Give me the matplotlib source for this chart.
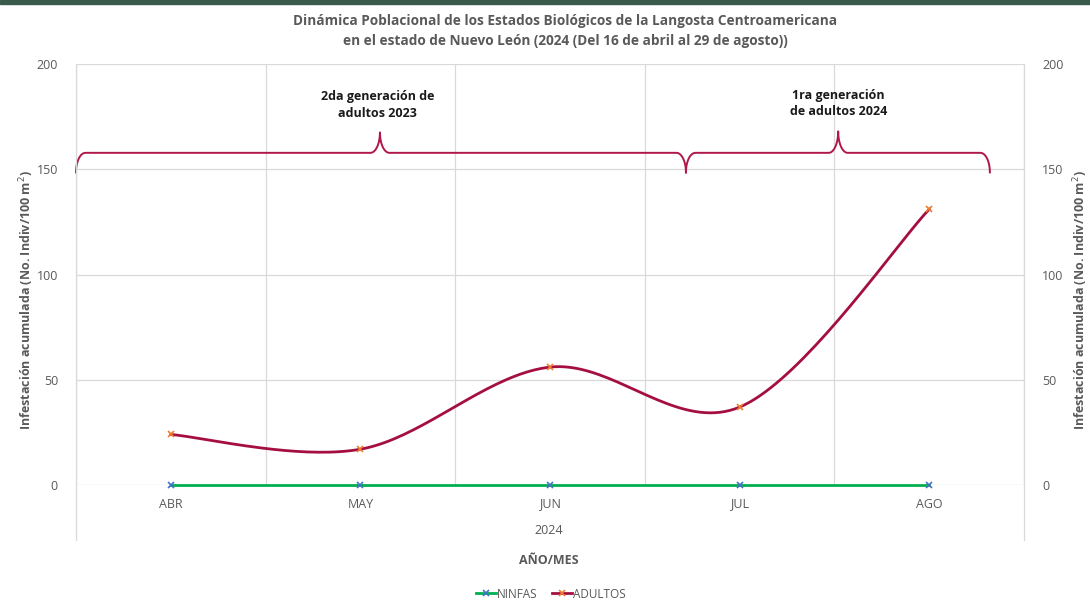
import numpy as np
import matplotlib
matplotlib.use("Agg")
import matplotlib.pyplot as plt
from matplotlib.lines import Line2D
from matplotlib.patches import Rectangle

categories = ["ABR", "MAY", "JUN", "JUL", "AGO"]
year_label = "2024"
ninfas = [0, 0, 0, 0, 0]
adultos = [24, 17, 56, 37, 131]
yticks = [0, 50, 100, 150, 200]

title = ("Dinámica Poblacional de los Estados Biológicos de la Langosta Centroamericana\n"
         "en el estado de Nuevo León (2024 (Del 16 de abril al 29 de agosto))")
ylabel = "Infestación acumulada (No. Indiv/100 m$^2$)"
xlabel = "AÑO/MES"
ann1 = "2da generación de\nadultos 2023"
ann2 = "1ra generación\nde adultos 2024"

plt.rcParams['font.family'] = ['Open Sans', 'DejaVu Sans']

GRID = "#d9d9d9"
TXT = "#595959"
GREEN = "#00b050"
BLUE = "#4472c4"
RED = "#a50f3f"
ORANGE = "#ed7d31"
BRACE = "#b0174a"


def smooth(xs, ys, n=40):
    pts = np.column_stack([xs, ys]).astype(float)
    out = []
    m = len(pts)
    for i in range(m - 1):
        p0 = pts[max(i - 1, 0)]
        p1 = pts[i]
        p2 = pts[i + 1]
        p3 = pts[min(i + 2, m - 1)]
        c1 = p1 + (p2 - p0) / 6.0
        c2 = p2 - (p3 - p1) / 6.0
        t = np.linspace(0, 1, n)[:, None]
        seg = ((1 - t) ** 3) * p1 + 3 * ((1 - t) ** 2) * t * c1 + 3 * (1 - t) * t ** 2 * c2 + t ** 3 * p2
        out.append(seg if i == 0 else seg[1:])
    s = np.vstack(out)
    return s[:, 0], s[:, 1]


W, H = 1090, 608
fig = plt.figure(figsize=(W / 100, H / 100), dpi=100)

# top band
fig.patches.append(Rectangle((0, 1 - 4 / H), 1, 4 / H, transform=fig.transFigure,
                             color="#3a5a4c", zorder=0))

left, right = 76 / W, 1024 / W
bottom, top = 1 - 485 / H, 1 - 64 / H
ax = fig.add_axes([left, bottom, right - left, top - bottom])
ax.set_xlim(-0.5, len(categories) - 0.5)
ax.set_ylim(0, 200)
for s in ax.spines.values():
    s.set_visible(False)
ax.set_yticks(yticks)
ax.tick_params(axis='y', length=0, labelsize=9, labelcolor=TXT, pad=13)
x = np.arange(len(categories))
ax.set_xticks(x)
ax.set_xticklabels(categories)
ax.tick_params(axis='x', length=0, labelsize=9, labelcolor=TXT, pad=9)

for v in yticks:
    ax.axhline(v, color=GRID, lw=0.9, zorder=0)
for k in range(len(categories) + 1):
    ax.axvline(k - 0.5, color=GRID, lw=0.9, zorder=0)

ax2 = ax.twinx()
ax2.set_ylim(0, 200)
ax2.set_yticks(yticks)
for s in ax2.spines.values():
    s.set_visible(False)
ax2.tick_params(axis='y', length=0, labelsize=9, labelcolor=TXT, pad=13)
ylab_y = (485 - 300) / 421
ax2.set_ylabel(ylabel, fontsize=9, fontweight='bold', color=TXT, rotation=90)
ax2.yaxis.set_label_coords((1071 - 76) / 948, ylab_y)
ax.set_ylabel(ylabel, fontsize=9, fontweight='bold', color=TXT)
ax.yaxis.set_label_coords((36 - 76) / 948, ylab_y)

# extended frame lines below the axis
for xf in (left, right):
    fig.add_artist(Line2D([xf, xf], [1 - 540 / H, top], transform=fig.transFigure,
                          color=GRID, lw=0.9))

# series
ax.plot(x, ninfas, color=GREEN, lw=2, zorder=3, clip_on=False)
ax.plot(x, ninfas, ls='none', marker='x', ms=4, mew=1.2, color=BLUE, zorder=4, clip_on=False)
sx, sy = smooth(x, adultos)
ax.plot(sx, sy, color=RED, lw=2, zorder=3, clip_on=False)
ax.plot(x, adultos, ls='none', marker='x', ms=4, mew=1.2, color=ORANGE, zorder=4, clip_on=False)


# braces
def brace(ax, x0, x1, xp, ylow, ymid, ypeak, color):
    r = 0.05
    t = np.linspace(0, np.pi / 2, 20)
    pts = []
    pts += [(x0 + r * (1 - np.cos(a)), ylow + (ymid - ylow) * np.sin(a)) for a in t]
    pts += [(xp - r, ymid)]
    pts += [(xp - r + r * np.sin(a), ymid + (ypeak - ymid) * (1 - np.cos(a))) for a in t]
    pts += [(xp + r - r * np.cos(a), ypeak - (ypeak - ymid) * np.sin(a)) for a in t]
    pts += [(x1 - r, ymid)]
    pts += [(x1 - r + r * np.sin(a), ymid - (ymid - ylow) * (1 - np.cos(a))) for a in t]
    pts = np.array(pts)
    ax.plot(pts[:, 0], pts[:, 1], color=color, lw=1.4, clip_on=False, zorder=5)


brace(ax, -0.5, 2.717, 1.103, 148.5, 157.8, 167.5, BRACE)
brace(ax, 2.717, 4.32, 3.52, 148.5, 157.8, 168.0, BRACE)

ax.text(1.09, 180.5, ann1, ha='center', va='center', fontsize=9, fontweight='bold',
        color='#1a1a1a', linespacing=1.35)
ax.text(3.52, 181.3, ann2, ha='center', va='center', fontsize=9, fontweight='bold',
        color='#1a1a1a', linespacing=1.35)

fig.text(565 / W, 1 - 31 / H, title, ha='center', va='center', fontsize=9.8,
         fontweight='bold', color=TXT, linespacing=1.6)
fig.text(549 / W, 1 - 531 / H, year_label, ha='center', va='center', fontsize=9, color=TXT)
fig.text(549 / W, 1 - 561 / H, xlabel, ha='center', va='center', fontsize=9,
         fontweight='bold', color=TXT)

handles = [Line2D([], [], color=GREEN, lw=2, marker='x', ms=4, mec=BLUE, mew=1.2),
           Line2D([], [], color=RED, lw=2, marker='x', ms=4, mec=ORANGE, mew=1.2)]
fig.legend(handles, ["NINFAS", "ADULTOS"], loc='center', bbox_to_anchor=(551 / W, 1 - 594 / H),
           ncol=2, frameon=False, fontsize=8.5, labelcolor=TXT, handlelength=1.7,
           handletextpad=0.1, columnspacing=1.2)

fig.savefig("out.png", dpi=100)
